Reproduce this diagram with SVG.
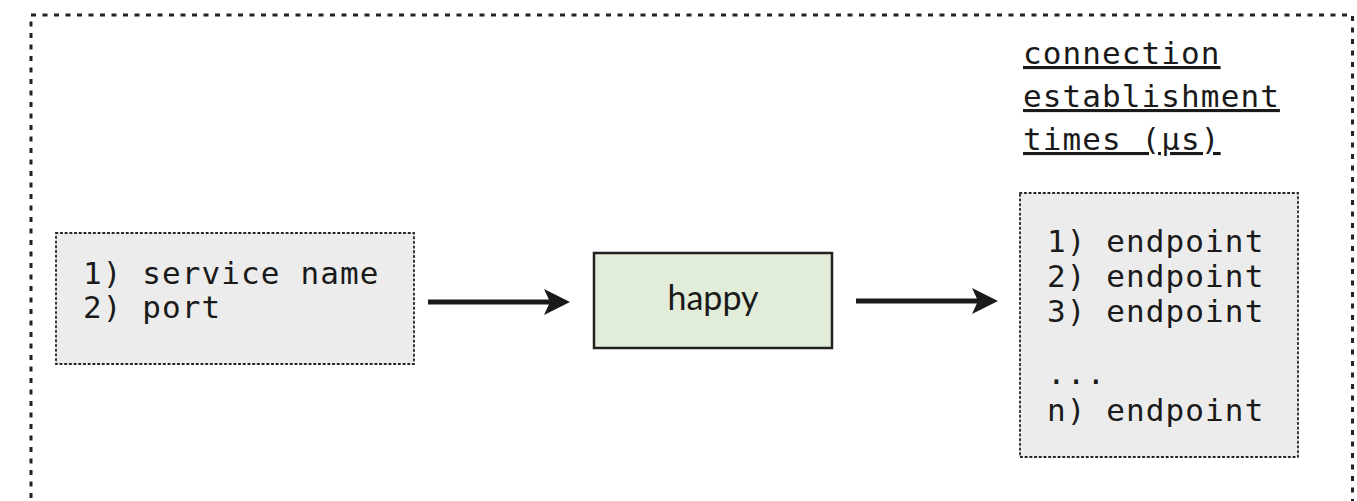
<svg xmlns="http://www.w3.org/2000/svg" width="1357" height="501" viewBox="0 0 1357 501">
<style>
.mono{font-family:"DejaVu Sans Mono","Liberation Mono",monospace;font-size:31px;letter-spacing:1.1px;fill:#1a1a1a}
.list{fill:#ececec;stroke:#222;stroke-width:1.8;stroke-dasharray:1.5 3.2;stroke-linecap:round}
.frame{fill:none;stroke:#222;stroke-width:3;stroke-dasharray:5 6.5}
.conn{stroke:#1a1a1a;stroke-width:5;fill:none}
.head{fill:#1a1a1a}
</style>
<rect class="frame" x="31" y="15" width="1321.5" height="530"/>
<g id="inputs">
<rect class="list" x="56" y="233" width="358" height="131"/>
<text class="mono" x="83" y="284">1) service name</text>
<text class="mono" x="83" y="318">2) port</text>
</g>
<g id="happy">
<rect x="594" y="253" width="238" height="95" fill="#e1ecd9" stroke="#222" stroke-width="2.5"/>
<text x="713" y="310" text-anchor="middle" font-family="Lato,'Open Sans',sans-serif" font-size="34" fill="#1a1a1a">happy</text>
</g>
<g id="title">
<text class="mono" x="1023" y="64" text-decoration="underline">connection</text>
<text class="mono" x="1023" y="107" text-decoration="underline">establishment</text>
<text class="mono" x="1023" y="150" text-decoration="underline">times (µs)</text>
</g>
<g id="outputs">
<rect class="list" x="1020" y="193" width="278" height="264"/>
<text class="mono" x="1047" y="252">1) endpoint</text>
<text class="mono" x="1047" y="287">2) endpoint</text>
<text class="mono" x="1047" y="322">3) endpoint</text>
<text class="mono" x="1047" y="384">...</text>
<text class="mono" x="1047" y="421">n) endpoint</text>
</g>
<g id="connectors">
<line class="conn" x1="428" y1="302" x2="552" y2="302"/>
<polygon class="head" points="570,302 544,289 550,302 544,315"/>
<line class="conn" x1="856" y1="301" x2="980" y2="301"/>
<polygon class="head" points="998,301 972,288 978,301 972,314"/>
</g>
</svg>
